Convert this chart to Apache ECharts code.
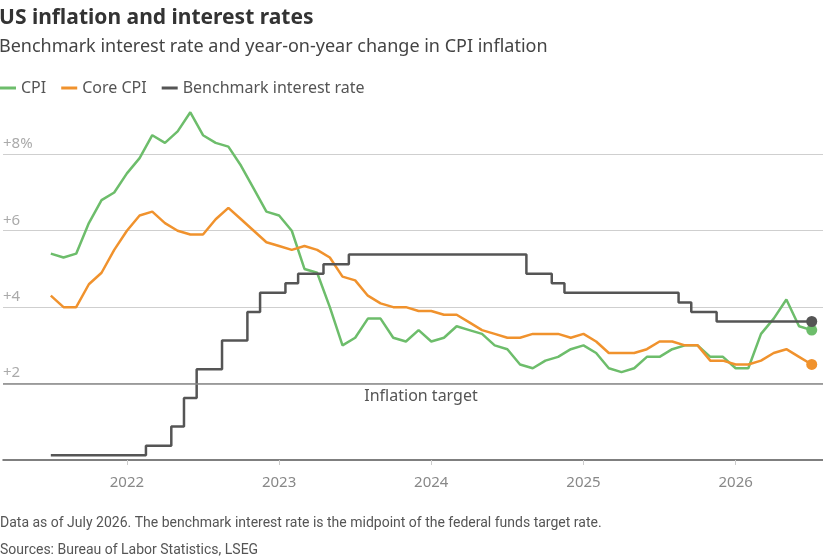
<!DOCTYPE html>
<html>
    <head>
        <meta charset="utf-8">
        <title>US inflation and interest rates</title>
        <style>
            html, body{
                margin: 0;
                padding: 0;
                background: #fff;
            }
            #chart{
                width: 823px;
                height: 559px;
            }
        </style>
    </head>
    <body>
        <div id="chart"></div>
        <script src="https://cdn.jsdelivr.net/npm/echarts@6/dist/echarts.min.js"></script>
        <script>
            // monthly, Jul 2021 .. Jul 2026
            var months = [
                '2021-07','2021-08','2021-09','2021-10','2021-11','2021-12',
                '2022-01','2022-02','2022-03','2022-04','2022-05','2022-06','2022-07','2022-08','2022-09','2022-10','2022-11','2022-12',
                '2023-01','2023-02','2023-03','2023-04','2023-05','2023-06','2023-07','2023-08','2023-09','2023-10','2023-11','2023-12',
                '2024-01','2024-02','2024-03','2024-04','2024-05','2024-06','2024-07','2024-08','2024-09','2024-10','2024-11','2024-12',
                '2025-01','2025-02','2025-03','2025-04','2025-05','2025-06','2025-07','2025-08','2025-09','2025-10','2025-11','2025-12',
                '2026-01','2026-02','2026-03','2026-04','2026-05','2026-06','2026-07'
            ];
            var cpi = [
                5.4, 5.3, 5.4, 6.2, 6.8, 7.0,
                7.5, 7.9, 8.5, 8.3, 8.6, 9.1, 8.5, 8.3, 8.2, 7.7, 7.1, 6.5,
                6.4, 6.0, 5.0, 4.9, 4.0, 3.0, 3.2, 3.7, 3.7, 3.2, 3.1, 3.4,
                3.1, 3.2, 3.5, 3.4, 3.3, 3.0, 2.9, 2.5, 2.4, 2.6, 2.7, 2.9,
                3.0, 2.8, 2.4, 2.3, 2.4, 2.7, 2.7, 2.9, 3.0, 3.0, 2.7, 2.7,
                2.4, 2.4, 3.3, 3.7, 4.2, 3.5, 3.4
            ];
            var coreCpi = [
                4.3, 4.0, 4.0, 4.6, 4.9, 5.5,
                6.0, 6.4, 6.5, 6.2, 6.0, 5.9, 5.9, 6.3, 6.6, 6.3, 6.0, 5.7,
                5.6, 5.5, 5.6, 5.5, 5.3, 4.8, 4.7, 4.3, 4.1, 4.0, 4.0, 3.9,
                3.9, 3.8, 3.8, 3.6, 3.4, 3.3, 3.2, 3.2, 3.3, 3.3, 3.3, 3.2,
                3.3, 3.1, 2.8, 2.8, 2.8, 2.9, 3.1, 3.1, 3.0, 3.0, 2.6, 2.6,
                2.5, 2.5, 2.6, 2.8, 2.9, 2.7, 2.5
            ];
            var fedRate = [
                0.125, 0.125, 0.125, 0.125, 0.125, 0.125,
                0.125, 0.125, 0.375, 0.375, 0.875, 1.625, 2.375, 2.375, 3.125, 3.125, 3.875, 4.375,
                4.375, 4.625, 4.875, 4.875, 5.125, 5.125, 5.375, 5.375, 5.375, 5.375, 5.375, 5.375,
                5.375, 5.375, 5.375, 5.375, 5.375, 5.375, 5.375, 5.375, 4.875, 4.875, 4.625, 4.375,
                4.375, 4.375, 4.375, 4.375, 4.375, 4.375, 4.375, 4.375, 4.125, 3.875, 3.875, 3.625,
                3.625, 3.625, 3.625, 3.625, 3.625, 3.625, 3.625
            ];
            var yearTicks = [2022, 2023, 2024, 2025, 2026];
            var yTickLabels = {2: '+2', 4: '+4', 6: '+6', 8: '+8%'};

            var font = "'Noto Sans', 'Open Sans', sans-serif";
            var noteFont = "'Liberation Sans Narrow', 'Roboto', sans-serif";
            var green = '#6dbd6b';
            var orange = '#f0922d';
            var grey = '#555555';
            var last = months.length - 1;

            // x is a month index counted from the first month
            function monthIndex(y){
                var first = months[0].split('-');
                return (y - (+first[0])) * 12 + 1 - (+first[1]);
            }
            function pairs(arr){
                return arr.map(function(v, i){ return [i, v]; });
            }
            function endDot(v, p){
                return p.dataIndex === last ? 11 : 0;
            }

            var chartDom = document.getElementById('chart');
            var myChart = echarts.init(chartDom);
            var option;

            option = {
                animation: false,
                backgroundColor: '#fff',
                textStyle: { fontFamily: font },
                title: [
                    {
                        text: 'US inflation and interest rates',
                        subtext: 'Benchmark interest rate and year-on-year change in CPI inflation',
                        left: -1,
                        top: 8,
                        padding: 0,
                        itemGap: 9,
                        textStyle: { fontFamily: font, fontSize: 21, fontWeight: 'bold', color: '#333' },
                        subtextStyle: { fontFamily: font, fontSize: 18, color: '#444' }
                    },
                    {
                        text: 'Data as of July 2026. The benchmark interest rate is the midpoint of the federal funds target rate.',
                        subtext: 'Sources: Bureau of Labor Statistics, LSEG',
                        left: 0,
                        top: 516,
                        padding: 0,
                        itemGap: 13,
                        textStyle: { fontFamily: noteFont, fontSize: 14, fontWeight: 'normal', color: '#555' },
                        subtextStyle: { fontFamily: noteFont, fontSize: 14, color: '#555' }
                    }
                ],
                legend: {
                    left: 0,
                    top: 80,
                    padding: 0,
                    itemGap: 15,
                    itemWidth: 16,
                    itemHeight: 3,
                    icon: 'rect',
                    textStyle: { fontFamily: font, fontSize: 16, color: '#555' },
                    data: ['CPI', 'Core CPI', 'Benchmark interest rate']
                },
                grid: {
                    left: 0,
                    right: 0,
                    top: 97,
                    bottom: 99,
                    containLabel: false
                },
                xAxis: {
                    type: 'value',
                    min: -48 / 12.729,
                    max: 60 + 11.3 / 12.729,
                    axisLine: { lineStyle: { color: '#555', width: 1.5 } },
                    axisTick: {
                        length: 5,
                        lineStyle: { color: '#ccc' },
                        customValues: yearTicks.map(monthIndex)
                    },
                    axisLabel: {
                        customValues: yearTicks.map(monthIndex),
                        margin: 15,
                        fontSize: 15,
                        color: '#888',
                        formatter: function(v){
                            return String(Math.round(v / 12 + 2021.5));
                        }
                    },
                    splitLine: { show: false }
                },
                yAxis: {
                    type: 'value',
                    min: 0,
                    max: 9.5,
                    interval: 2,
                    axisLine: { show: false },
                    axisTick: { show: false },
                    splitLine: {
                        showMinLine: false,
                        showMaxLine: false,
                        lineStyle: { color: '#cfcfcf', width: 1 }
                    },
                    axisLabel: {
                        inside: true,
                        margin: 0,
                        verticalAlign: 'bottom',
                        align: 'left',
                        padding: [0, 0, 3, 0],
                        fontSize: 15,
                        color: '#aaa',
                        formatter: function(v){
                            return yTickLabels[v] || '';
                        }
                    }
                },
                series: [
                    {
                        name: 'CPI',
                        type: 'line',
                        data: pairs(cpi),
                        color: green,
                        lineStyle: { width: 2.5 },
                        symbol: 'circle',
                        showSymbol: true,
                        showAllSymbol: true,
                        symbolSize: endDot,
                        markLine: {
                            silent: true,
                            symbol: 'none',
                            lineStyle: { color: '#888', width: 1.5, type: 'solid' },
                            label: {
                                show: true,
                                position: 'insideMiddleBottom',
                                distance: 5,
                                offset: [8, 0],
                                formatter: 'Inflation target',
                                fontFamily: font,
                                fontSize: 16,
                                color: '#555'
                            },
                            data: [{ yAxis: 2 }]
                        }
                    },
                    {
                        name: 'Core CPI',
                        type: 'line',
                        data: pairs(coreCpi),
                        color: orange,
                        lineStyle: { width: 2.5 },
                        symbol: 'circle',
                        showSymbol: true,
                        showAllSymbol: true,
                        symbolSize: endDot
                    },
                    {
                        name: 'Benchmark interest rate',
                        type: 'line',
                        step: 'middle',
                        data: pairs(fedRate),
                        color: grey,
                        lineStyle: { width: 2.5 },
                        symbol: 'circle',
                        showSymbol: true,
                        showAllSymbol: true,
                        symbolSize: endDot
                    }
                ]
            };

            option && myChart.setOption(option);
        </script>
    </body>
</html>
